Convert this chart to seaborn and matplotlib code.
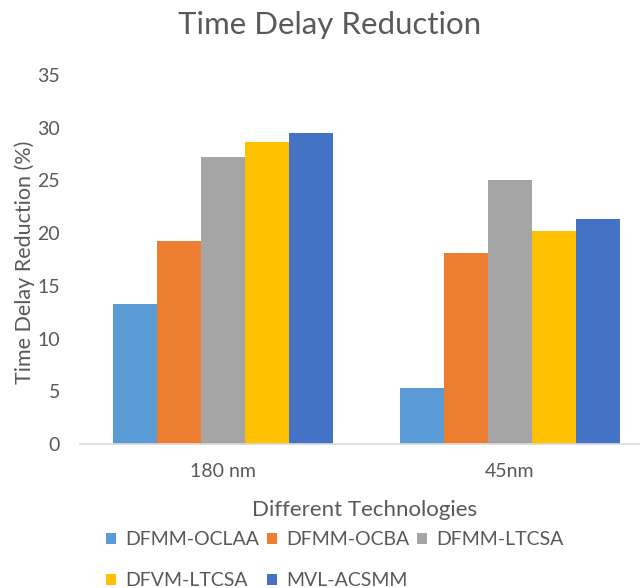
import matplotlib
matplotlib.use("Agg")
import matplotlib.pyplot as plt
import seaborn as sns
import pandas as pd
from matplotlib.patches import Patch

# ---- data ----
technologies = ["180 nm", "45nm"]
methods = ["DFMM-OCLAA", "DFMM-OCBA", "DFMM-LTCSA", "DFVM-LTCSA", "MVL-ACSMM"]
dfmm_oclaa = [13.3, 5.3]
dfmm_ocba = [19.3, 18.1]
dfmm_ltcsa = [27.2, 25.0]
dfvm_ltcsa = [28.6, 20.2]
mvl_acsmm = [29.5, 21.3]
colors = ["#5B9BD5", "#ED7D31", "#A5A5A5", "#FFC000", "#4472C4"]

series = [dfmm_oclaa, dfmm_ocba, dfmm_ltcsa, dfvm_ltcsa, mvl_acsmm]
rows = []
for m, vals in zip(methods, series):
    for t, v in zip(technologies, vals):
        rows.append({"tech": t, "method": m, "value": v})
df = pd.DataFrame(rows)

sns.set_theme(style="white")
plt.rcParams["font.family"] = ["Lato", "DejaVu Sans"]
txt = "#595959"

fig = plt.figure(figsize=(6.4, 5.88), dpi=100)
ax = fig.add_axes([80 / 640, 1 - 444 / 588, (653 - 80) / 640, (444 - 75) / 588])

sns.barplot(data=df, x="tech", y="value", hue="method", hue_order=methods,
            order=technologies, palette=colors, width=0.768, ax=ax,
            linewidth=0, saturation=1, legend=False)

ax.set_ylim(0, 35)
ax.set_xlim(-0.5, 1.5)
ax.set_yticks(range(0, 36, 5))
ax.tick_params(axis="y", length=0, pad=14.5, labelsize=14, labelcolor=txt)
ax.tick_params(axis="x", length=0, pad=14, labelsize=14, labelcolor=txt)
for s in ["top", "right", "left"]:
    ax.spines[s].set_visible(False)
ax.spines["bottom"].set_color("#D9D9D9")
ax.spines["bottom"].set_linewidth(1.2)
ax.set_xlabel("")
ax.set_ylabel("")

fig.text(330 / 640, 1 - 25 / 588, "Time Delay Reduction", ha="center", va="center",
         fontsize=22.5, color=txt)
fig.text(25 / 640, 1 - 262 / 588, "Time Delay Reduction (%)", ha="center", va="center",
         rotation=90, fontsize=15.5, color=txt)
fig.text(365 / 640, 1 - 510 / 588, "Different Technologies", ha="center", va="center",
         fontsize=16, color=txt)

# row-major legend order for a 3-column legend (matplotlib fills by column)
order = [0, 3, 1, 4, 2]
handles = [Patch(facecolor=colors[i], edgecolor="none") for i in order]
labels = [methods[i] for i in order]
fig.legend(handles, labels, ncol=3, loc="upper left",
           bbox_to_anchor=(106 / 640, 1 - 531 / 588), frameon=False,
           borderpad=0, borderaxespad=0,
           fontsize=14, labelcolor=txt, handlelength=0.5, handleheight=0.5,
           handletextpad=0.48, columnspacing=0.41, labelspacing=1.25)

fig.savefig("out.png", dpi=100)
